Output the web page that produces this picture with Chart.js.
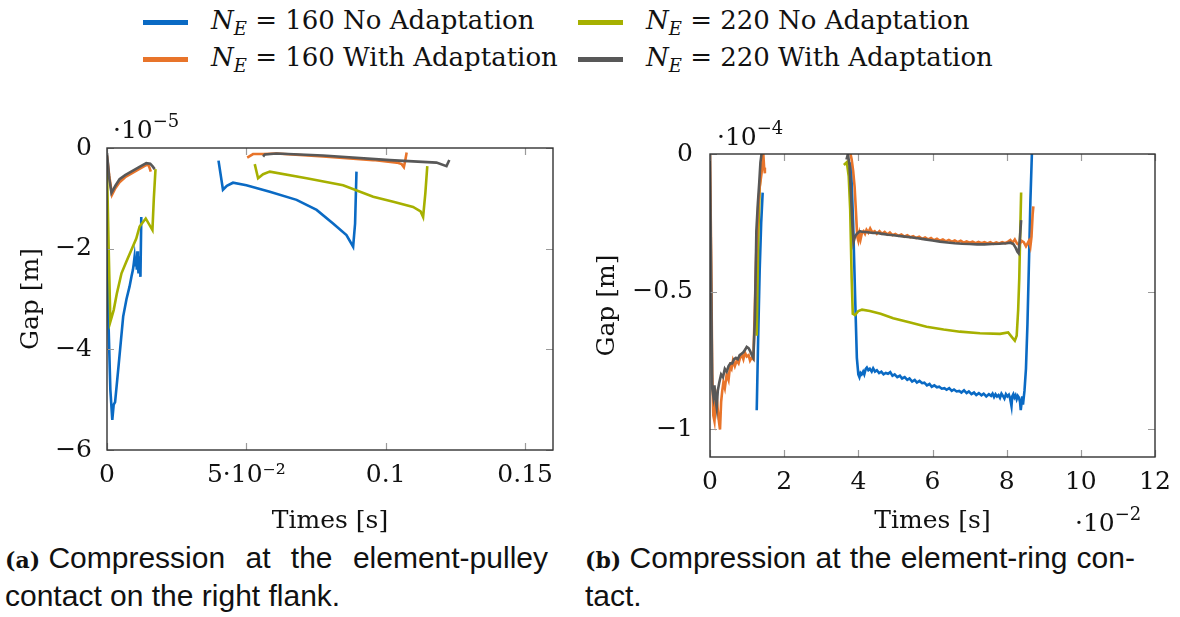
<!DOCTYPE html>
<html lang="en">
<head>
  <meta charset="UTF-8">
  <title>Gap at the element contacts</title>
  <script src="https://cdn.jsdelivr.net/npm/chart.js"></script>
  <style>
    body { margin: 0; background: #fff; }
    #page { position: relative; width: 1180px; height: 617px; overflow: hidden; font-family: "DejaVu Serif", serif; color: #111; }
    .leg { position: absolute; display: flex; align-items: center; font-size: 26px; white-space: nowrap; }
    .swatch { display: inline-block; width: 45px; height: 5px; margin-right: 23px; }
    .leg sub { font-size: 18px; vertical-align: -6px; }
    .expo { position: absolute; font-size: 25px; white-space: nowrap; }
    .expo sup { font-size: 18px; vertical-align: 11px; }
    .cap { position: absolute; font-family: "Liberation Sans", Arial, sans-serif; font-size: 30px; white-space: nowrap; }
    .cap.just { display: flex; justify-content: space-between; }
    .cap b { font-family: "DejaVu Serif", serif; font-size: 22px; }
    canvas { position: absolute; }
  </style>
</head>
<body>
<div id="page">
  <div class="leg" style="left:143px; top:5px;"><span class="swatch" style="background:#0a6ac4"></span><span><i>N</i><sub><i>E</i></sub> = 160 No Adaptation</span></div>
  <div class="leg" style="left:143px; top:42px;"><span class="swatch" style="background:#e8742a"></span><span><i>N</i><sub><i>E</i></sub> = 160 With Adaptation</span></div>
  <div class="leg" style="left:578px; top:5px;"><span class="swatch" style="background:#a6b000"></span><span><i>N</i><sub><i>E</i></sub> = 220 No Adaptation</span></div>
  <div class="leg" style="left:578px; top:42px;"><span class="swatch" style="background:#585858"></span><span><i>N</i><sub><i>E</i></sub> = 220 With Adaptation</span></div>

  <canvas id="chartA" width="580" height="430" style="left:0; top:110px;"></canvas>
  <canvas id="chartB" width="600" height="430" style="left:580px; top:110px;"></canvas>

  <div class="expo" style="left:113px; top:110px;">·10<sup>−5</sup></div>
  <div class="expo" style="left:717px; top:117px;">·10<sup>−4</sup></div>
  <div class="expo" style="left:1075px; top:503px;">·10<sup>−2</sup></div>

  <div class="cap just" style="left:5px; top:541px; width:543px;"><span><b>(a)</b> Compression</span><span>at</span><span>the</span><span>element-pulley</span></div>
  <div class="cap" style="left:5px; top:579px;">contact on the right flank.</div>
  <div class="cap just" style="left:585px; top:541px; width:550px;"><span><b>(b)</b> Compression</span><span>at</span><span>the</span><span>element-ring</span><span>con-</span></div>
  <div class="cap" style="left:585px; top:579px;">tact.</div>
</div>

<script>
  // ---- (a) element-pulley contact, time [s], gap [1e-5 m] ----
  const xTicksA = [0, 0.05, 0.1, 0.15];
  const xTickLabelsA = ['0', '5·10⁻²', '0.1', '0.15'];
  const yTicksA = [0, -2, -4, -6];
  const yTickLabelsA = ['0', '−2', '−4', '−6'];

  const tA_160no = [0, 0.0006, 0.0012, 0.0019, 0.0024, 0.0029, 0.0042, 0.0058, 0.0070, 0.0081, 0.0088, 0.0093, 0.0096, 0.0099, 0.0102, 0.0105, 0.0107, 0.0109,
    0.0111, 0.0113, 0.0115, 0.0117, 0.0119, 0.0120, 0.0123,
    0.025, 0.0400, 0.0416, 0.0430, 0.0452, 0.0500, 0.0584, 0.0680, 0.0752, 0.0811, 0.0859, 0.0883, 0.0890, 0.0895];
  const gA_160no = [-2.0, -3.6, -4.8, -5.4, -5.1, -5.05, -4.3, -3.35, -3.0, -2.75, -2.55, -2.42, -2.3, -2.16, -2.35, -2.2, -2.42, -2.05,
    -2.3, -2.49, -2.15, -2.22, -2.4, -2.56, -1.37,
    null, -0.25, -0.83, -0.75, -0.69, -0.74, -0.87, -1.03, -1.23, -1.50, -1.73, -1.96, -1.5, -0.47];

  const tA_220no = [0, 0.0006, 0.0012, 0.0024, 0.0035, 0.0052, 0.0070, 0.0087, 0.0105, 0.0117, 0.0139, 0.0163, 0.0168, 0.0174,
    0.03, 0.0530, 0.0542, 0.0560, 0.0584, 0.0716, 0.0847, 0.0955, 0.1027, 0.1098, 0.1125, 0.1134, 0.1142, 0.1149];
  const gA_220no = [-0.4, -2.0, -3.45, -3.22, -2.9, -2.49, -2.25, -2.03, -1.8, -1.56, -1.40, -1.63, -1.0, -0.42,
    null, -0.32, -0.60, -0.52, -0.47, -0.60, -0.74, -0.97, -1.07, -1.17, -1.26, -1.37, -0.9, -0.36];

  const tA_160with = [0, 0.0008, 0.0018, 0.0030, 0.0045, 0.0065, 0.0090, 0.0115, 0.0140, 0.0148, 0.0153, 0.0157,
    0.03, 0.0503, 0.0524, 0.0560, 0.0608, 0.0775, 0.0955, 0.1040, 0.1057, 0.1065, 0.1070, 0.1075];
  const gA_160with = [-0.15, -0.55, -0.93, -0.80, -0.68, -0.58, -0.50, -0.42, -0.34, -0.33, -0.40, -0.47,
    null, -0.19, -0.12, -0.12, -0.11, -0.17, -0.24, -0.29, -0.32, -0.38, -0.25, -0.09];

  const tA_220with = [0, 0.0008, 0.0016, 0.0030, 0.0045, 0.0065, 0.0090, 0.0115, 0.0141, 0.0155, 0.0163, 0.0171,
    0.03, 0.0560, 0.0566, 0.0608, 0.0775, 0.1015, 0.1182, 0.1218, 0.1228];
  const gA_220with = [-0.1, -0.6, -0.89, -0.75, -0.62, -0.54, -0.46, -0.38, -0.30, -0.31, -0.36, -0.42,
    null, -0.17, -0.13, -0.11, -0.15, -0.24, -0.29, -0.36, -0.24];

  // ---- (b) element-ring contact, time [1e-2 s], gap [1e-4 m] ----
  const xTicksB = [0, 2, 4, 6, 8, 10, 12];
  const yTicksB = [0, -0.5, -1];
  const yTickLabelsB = ['0', '−0.5', '−1'];

  const tB_160no = [1.26, 1.30, 1.34, 1.38, 1.42,
    2.5, 3.80, 3.86, 3.92, 3.96, 4.00, 4.03, 4.06, 4.09, 4.13, 4.16, 4.20, 4.23, 4.27, 4.31, 4.36, 4.40, 4.45, 4.50, 4.56, 4.62, 4.68, 4.74,
    4.80, 4.86, 4.92, 4.98, 5.05, 5.12, 5.18, 5.25, 5.32, 5.38, 5.45, 5.52, 5.58, 5.65, 5.72, 5.78, 5.85, 5.92, 5.98,
    6.05, 6.12, 6.18, 6.25, 6.32, 6.38, 6.45, 6.52, 6.58, 6.65, 6.72, 6.78, 6.85, 6.92, 6.98, 7.05, 7.12, 7.18, 7.25,
    7.32, 7.38, 7.45, 7.52, 7.58, 7.62, 7.66, 7.70, 7.74, 7.78, 7.82, 7.86, 7.90, 7.94, 7.98, 8.02, 8.06, 8.09, 8.11, 8.13,
    8.15, 8.18, 8.21, 8.24, 8.27, 8.30, 8.33, 8.36, 8.38, 8.40, 8.42, 8.44, 8.48, 8.52, 8.56, 8.60, 8.64, 8.68];
  const gB_160no = [-0.93, -0.66, -0.42, -0.25, -0.14,
    null, -0.03, -0.25, -0.55, -0.74, -0.80, -0.81, -0.795, -0.80, -0.79, -0.80, -0.78, -0.775, -0.785, -0.78, -0.79, -0.778, -0.79, -0.785, -0.795, -0.79, -0.80, -0.795,
    -0.798, -0.792, -0.805, -0.80, -0.81, -0.805, -0.815, -0.81, -0.82, -0.815, -0.826, -0.82, -0.83, -0.824, -0.832, -0.83, -0.84, -0.835, -0.845,
    -0.84, -0.847, -0.845, -0.852, -0.85, -0.856, -0.85, -0.86, -0.855, -0.862, -0.86, -0.866, -0.858, -0.868, -0.862, -0.872, -0.866, -0.875, -0.868,
    -0.876, -0.87, -0.88, -0.872, -0.878, -0.87, -0.882, -0.872, -0.88, -0.875, -0.885, -0.87, -0.878, -0.888, -0.872, -0.88, -0.874, -0.886, -0.9, -0.915,
    -0.88, -0.872, -0.884, -0.876, -0.89, -0.878, -0.884, -0.9, -0.93, -0.905, -0.88, -0.91, -0.86, -0.78, -0.62, -0.40, -0.17, 0.0];

  const tB_220no = [1.26, 1.30, 1.34, 1.38,
    2.5, 3.61, 3.69, 3.74, 3.78, 3.82, 3.85, 3.91, 4.00, 4.10, 4.31, 4.60, 4.94, 5.40, 5.84, 6.30, 6.74, 7.28, 7.82, 8.04,
    8.13, 8.22, 8.27, 8.31, 8.34, 8.36, 8.39];
  const gB_220no = [-0.66, -0.31, -0.12, -0.04,
    null, -0.04, -0.03, -0.08, -0.20, -0.45, -0.58, -0.585, -0.57, -0.565, -0.57, -0.58, -0.596, -0.612, -0.627, -0.637, -0.645, -0.651, -0.653, -0.648,
    -0.663, -0.678, -0.66, -0.566, -0.45, -0.32, -0.14];

  const tB_160with = [0.00, 0.03, 0.06, 0.09, 0.12, 0.15, 0.18, 0.21, 0.24, 0.27, 0.30, 0.33, 0.36, 0.40, 0.45, 0.50, 0.54, 0.58, 0.62, 0.67,
    0.72, 0.77, 0.81, 0.86, 0.90, 0.94, 0.99, 1.04, 1.08, 1.12, 1.17, 1.21, 1.25, 1.30, 1.34, 1.39, 1.42, 1.44, 1.46, 1.48,
    2.5, 3.79, 3.82, 3.86, 3.90, 3.94, 3.97, 4.00, 4.03, 4.06, 4.10, 4.14, 4.18, 4.22, 4.27, 4.32, 4.38, 4.44, 4.50, 4.57, 4.64,
    4.71, 4.78, 4.85, 4.92, 5.00, 5.08, 5.16, 5.24, 5.32, 5.40, 5.48, 5.56, 5.64, 5.72, 5.80, 5.88, 5.96, 6.04, 6.12, 6.20,
    6.28, 6.36, 6.44, 6.52, 6.60, 6.68, 6.76, 6.84, 6.92, 7.00, 7.08, 7.16, 7.24, 7.32, 7.40, 7.48, 7.56, 7.64, 7.72, 7.80,
    7.88, 7.96, 8.04, 8.10, 8.16, 8.22, 8.28, 8.34, 8.40, 8.46, 8.52, 8.56, 8.60, 8.64, 8.67, 8.70, 8.72];
  const gB_160with = [0.00, -0.35, -0.80, -0.95, -0.97, -0.90, -0.88, -0.93, -0.97, -1.00, -0.90, -0.86, -0.83, -0.85, -0.80, -0.82, -0.77, -0.78, -0.75, -0.77,
    -0.75, -0.76, -0.74, -0.73, -0.745, -0.72, -0.735, -0.73, -0.75, -0.74, -0.745, -0.55, -0.35, -0.19, -0.12, -0.07, -0.02, -0.005, -0.05, -0.07,
    null, 0.0, -0.02, -0.06, -0.12, -0.22, -0.30, -0.315, -0.29, -0.31, -0.285, -0.28, -0.29, -0.275, -0.285, -0.27, -0.285, -0.28, -0.29, -0.28, -0.29,
    -0.283, -0.292, -0.285, -0.295, -0.29, -0.297, -0.292, -0.30, -0.295, -0.302, -0.298, -0.305, -0.30, -0.308, -0.303, -0.31, -0.305, -0.313, -0.308, -0.315,
    -0.31, -0.317, -0.312, -0.318, -0.314, -0.32, -0.315, -0.322, -0.317, -0.322, -0.318, -0.324, -0.319, -0.324, -0.32, -0.325, -0.32, -0.326, -0.321, -0.325,
    -0.32, -0.324, -0.318, -0.312, -0.322, -0.31, -0.325, -0.33, -0.315, -0.32, -0.335, -0.325, -0.315, -0.335, -0.30, -0.22, -0.19];

  const tB_220with = [0.00, 0.03, 0.06, 0.09, 0.12, 0.15, 0.18, 0.21, 0.25, 0.30, 0.35, 0.40, 0.45, 0.50, 0.55, 0.60, 0.65, 0.70, 0.75, 0.80,
    0.85, 0.90, 0.95, 0.99, 1.04, 1.08, 1.13, 1.17, 1.21, 1.25, 1.29, 1.33, 1.36, 1.39,
    2.5, 3.68, 3.72, 3.76, 3.80, 3.84, 3.87, 3.91, 3.96, 4.00, 4.04, 4.10, 4.20, 4.30, 4.40, 4.50, 4.60, 4.70, 4.80, 4.90, 5.00,
    5.20, 5.40, 5.60, 5.80, 6.00, 6.20, 6.40, 6.60, 6.80, 7.00, 7.20, 7.40, 7.60, 7.80, 8.00, 8.10, 8.18, 8.24, 8.29, 8.32, 8.36, 8.39];
  const gB_220with = [0.0, -0.45, -0.85, -0.88, -0.84, -0.89, -0.92, -0.86, -0.83, -0.80, -0.81, -0.78, -0.79, -0.77, -0.76, -0.76, -0.745, -0.74, -0.745, -0.73,
    -0.725, -0.72, -0.71, -0.70, -0.705, -0.715, -0.73, -0.74, -0.60, -0.28, -0.18, -0.10, -0.03, 0.0,
    null, -0.02, 0.0, -0.04, -0.14, -0.26, -0.32, -0.30, -0.29, -0.285, -0.28, -0.282, -0.283, -0.285, -0.287, -0.286, -0.289, -0.291, -0.293, -0.294, -0.296,
    -0.299, -0.302, -0.306, -0.31, -0.314, -0.318, -0.321, -0.324, -0.326, -0.327, -0.328, -0.328, -0.327, -0.326, -0.324, -0.322, -0.327, -0.34, -0.355, -0.36, -0.30, -0.24];

  const colors = { no160: '#0a6ac4', with160: '#e8742a', no220: '#a6b000', with220: '#585858' };

  function pts(xs, ys) {
    return xs.map((x, i) => ({ x: x, y: ys[i] }));
  }

  function line(label, xs, ys, color) {
    return { label: label, data: pts(xs, ys), borderColor: color, borderWidth: 2.6,
      pointRadius: 0, tension: 0, fill: false, spanGaps: false };
  }

  // box around the plot area plus small inner tick marks on all four sides
  const framePlugin = {
    id: 'frame',
    afterDatasetsDraw(chart) {
      const ctx = chart.ctx, a = chart.chartArea;
      const xs = chart.scales.x, ys = chart.scales.y;
      ctx.save();
      ctx.strokeStyle = '#9a9a9a';
      ctx.lineWidth = 1.2;
      ctx.beginPath();
      xs.ticks.forEach(t => {
        const px = Math.round(xs.getPixelForValue(t.value)) + 0.5;
        ctx.moveTo(px, a.bottom); ctx.lineTo(px, a.bottom - 7);
        ctx.moveTo(px, a.top); ctx.lineTo(px, a.top + 7);
      });
      ys.ticks.forEach(t => {
        const py = Math.round(ys.getPixelForValue(t.value)) + 0.5;
        ctx.moveTo(a.left, py); ctx.lineTo(a.left + 7, py);
        ctx.moveTo(a.right, py); ctx.lineTo(a.right - 7, py);
      });
      ctx.stroke();
      ctx.strokeStyle = '#333';
      ctx.lineWidth = 1.4;
      ctx.strokeRect(a.left, a.top, a.right - a.left, a.bottom - a.top);
      ctx.restore();
    }
  };

  const tickFont = { family: 'DejaVu Serif', size: 25 };
  const titleFont = { family: 'DejaVu Serif', size: 25 };

  function makeChart(id, datasets, opt) {
    return new Chart(document.getElementById(id), {
      type: 'line',
      data: { datasets: datasets },
      options: {
        responsive: false,
        animation: false,
        events: [],
        layout: { padding: opt.padding },
        plugins: { legend: { display: false }, tooltip: { enabled: false } },
        scales: {
          x: {
            type: 'linear', min: opt.xMin, max: opt.xMax,
            grid: { display: false }, border: { display: false },
            afterBuildTicks: s => { s.ticks = opt.xTicks.map(v => ({ value: v })); },
            afterFit: s => { s.height = opt.xAxisHeight; },
            ticks: { font: tickFont, color: '#111', padding: 2, maxRotation: 0,
              callback: (v, i) => opt.xLabels[i] },
            title: { display: true, text: 'Times [s]', font: titleFont, color: '#111',
              padding: { top: 0, bottom: 4 } }
          },
          y: {
            type: 'linear', min: opt.yMin, max: opt.yMax,
            grid: { display: false }, border: { display: false },
            afterBuildTicks: s => { s.ticks = opt.yTicks.map(v => ({ value: v })); },
            afterFit: s => { s.width = opt.yAxisWidth; },
            ticks: { font: tickFont, color: '#111', padding: opt.yTickPad,
              callback: (v, i) => opt.yLabels[i] },
            title: { display: true, text: 'Gap [m]', font: titleFont, color: '#111',
              padding: { top: opt.yTitlePad, bottom: 0 } }
          }
        }
      },
      plugins: [framePlugin]
    });
  }

  // datasets listed top layer first (Chart.js draws index 0 last)
  makeChart('chartA', [
    line('N_E = 220 With Adaptation', tA_220with, gA_220with, colors.with220),
    line('N_E = 160 With Adaptation', tA_160with, gA_160with, colors.with160),
    line('N_E = 220 No Adaptation', tA_220no, gA_220no, colors.no220),
    line('N_E = 160 No Adaptation', tA_160no, gA_160no, colors.no160)
  ], {
    xMin: 0, xMax: 0.16, yMin: -6, yMax: 0,
    xTicks: xTicksA, xLabels: xTickLabelsA, yTicks: yTicksA, yLabels: yTickLabelsA,
    padding: { top: 38, right: 27, left: 0, bottom: 0 },
    xAxisHeight: 90, yAxisWidth: 107, yTitlePad: 16, yTickPad: 7
  });

  makeChart('chartB', [
    line('N_E = 220 With Adaptation', tB_220with, gB_220with, colors.with220),
    line('N_E = 160 With Adaptation', tB_160with, gB_160with, colors.with160),
    line('N_E = 220 No Adaptation', tB_220no, gB_220no, colors.no220),
    line('N_E = 160 No Adaptation', tB_160no, gB_160no, colors.no160)
  ], {
    xMin: 0, xMax: 12, yMin: -1.1, yMax: 0,
    xTicks: xTicksB, xLabels: xTicksB.map(String), yTicks: yTicksB, yLabels: yTickLabelsB,
    padding: { top: 44, right: 25, left: 0, bottom: 0 },
    xAxisHeight: 83, yAxisWidth: 130, yTitlePad: 12, yTickPad: 9
  });
</script>
</body>
</html>
